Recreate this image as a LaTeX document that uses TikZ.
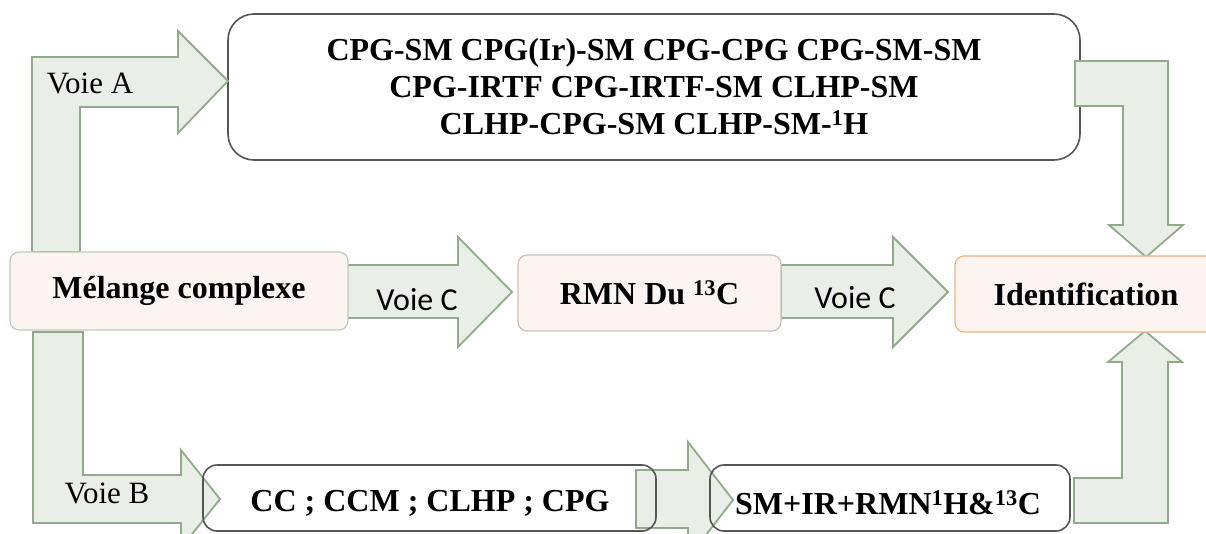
\documentclass[tikz,border=0pt]{standalone}
\usepackage{fontspec}
\setmainfont{Liberation Serif}
\newfontfamily\calib{Carlito}
\definecolor{arrfill}{RGB}{233,239,230}
\definecolor{arrdraw}{RGB}{145,170,140}
\definecolor{boxpink}{RGB}{251,244,240}
\definecolor{melline}{RGB}{190,204,186}
\definecolor{rmnline}{RGB}{205,192,186}
\definecolor{idline}{RGB}{238,178,128}
\definecolor{darkline}{RGB}{85,85,85}
\begin{document}
\begin{tikzpicture}[x=1pt,y=-1pt,
  arr/.style={fill=arrfill, draw=arrdraw, line width=1.8pt, line join=miter},
  softbox/.style={rectangle, rounded corners=9pt, fill=boxpink, line width=1.2pt, inner sep=0pt,
     font=\fontsize{32}{37}\selectfont\bfseries},
  linebox/.style={rectangle, rounded corners=14pt, draw=darkline, line width=1.6pt, inner sep=0pt,
     font=\fontsize{32}{37}\selectfont\bfseries},
  voie/.style={inner sep=0pt, font=\fontsize{31}{35}\selectfont},
  voiec/.style={inner sep=0pt, font=\calib\fontsize{32}{36}\selectfont}]
\useasboundingbox (0,0) rectangle (1206,533);
\clip (0,0) rectangle (1206,533);

% top box
\node[linebox, rounded corners=26pt, fill=white, minimum width=852pt, minimum height=146pt, align=center]
  (boxA) at (654,87) {CPG-SM CPG(Ir)-SM CPG-CPG CPG-SM-SM\\CPG-IRTF CPG-IRTF-SM CLHP-SM\\CLHP-CPG-SM CLHP-SM-\textsuperscript{1}H};

% arrows
\draw[arr] (32,252) -- (32,57) -- (178,57) -- (178,31) -- (228,81) -- (178,133) -- (178,107) -- (80,107) -- (80,252) -- cycle;
\draw[arr] (346,265) -- (458,265) -- (458,237) -- (512,292) -- (458,347) -- (458,318) -- (346,318) -- cycle;
\draw[arr] (781,265) -- (893,265) -- (893,237) -- (948,292) -- (893,347) -- (893,318) -- (781,318) -- cycle;
\draw[arr] (1075,61) -- (1168,61) -- (1168,225) -- (1183,225) -- (1146,257) -- (1109,225) -- (1123,225) -- (1123,106) -- (1075,106) -- cycle;
\draw[arr] (33,332) -- (83,332) -- (83,475) -- (181,475) -- (181,450) -- (220,499) -- (181,548) -- (181,523) -- (33,523) -- cycle;
\draw[arr] (636,470) -- (688,470) -- (688,442) -- (733,500) -- (688,558) -- (688,528) -- (636,528) -- cycle;
\draw[arr] (1074,523) -- (1168,523) -- (1168,362) -- (1182,362) -- (1145,331) -- (1108,362) -- (1122,362) -- (1122,478) -- (1074,478) -- cycle;

% boxes
\node[softbox, draw=melline, minimum width=338pt, minimum height=78pt] (mel) at (179,291) {M\'elange complexe};
\node[softbox, draw=rmnline, minimum width=263pt, minimum height=76pt] (rmn) at (649.5,293) {RMN Du \textsuperscript{13}C};
\node[softbox, draw=idline, minimum width=262pt, minimum height=76pt] (ident) at (1086,294) {Identification};
\node[linebox, minimum width=453pt, minimum height=66pt] (cc) at (429.5,498) {};
\node[linebox, minimum width=360pt, minimum height=66pt] (sm) at (890,498) {};
\node[inner sep=0pt, font=\fontsize{32}{37}\selectfont\bfseries] (cctext) at (430,503) {CC ; CCM ; CLHP ; CPG};
\node[inner sep=0pt, font=\fontsize{32}{37}\selectfont\bfseries] (smtext) at (888,503) {SM+IR+RMN\textsuperscript{1}H\&\textsuperscript{13}C};

% labels
\node[voie] (va) at (90,83) {Voie A};
\node[voie] (vb) at (107,493) {Voie B};
\node[voiec] (vc1) at (417,300) {Voie C};
\node[voiec] (vc2) at (855,298) {Voie C};
\end{tikzpicture}
\end{document}
